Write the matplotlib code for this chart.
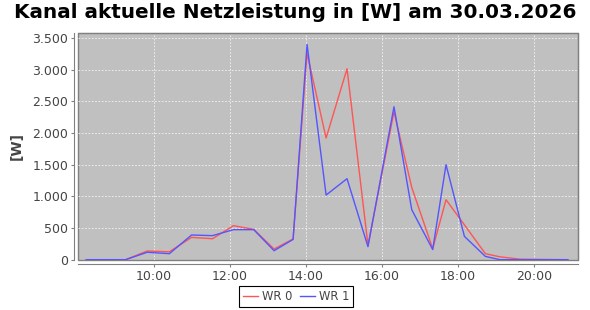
import matplotlib

matplotlib.use("Agg")
import matplotlib.pyplot as plt
import matplotlib.dates as mdates
import matplotlib.ticker as mticker
import pandas as pd

# Messzeitpunkte und Leistung je Wechselrichter in W
times = ["08:14", "09:16", "09:50", "10:25", "11:00", "11:33", "12:06", "12:38",
         "13:10", "13:40", "14:02", "14:32", "15:05", "15:38", "16:19", "16:47",
         "17:20", "17:41", "18:10", "18:43", "19:06", "19:38", "20:53"]
wr0 = [0, 0, 137, 125, 352, 331, 537, 479, 168, 327, 3260, 1921, 3015, 230,
       2336, 1140, 174, 947, 550, 95, 45, 8, 0]
wr1 = [0, 0, 117, 95, 390, 380, 474, 474, 142, 320, 3400, 1021, 1279, 205,
       2415, 789, 160, 1500, 368, 52, 0, 0, 0]

day = "2026-03-30"
x = pd.to_datetime([f"{day} {t}" for t in times])

TEXT = "#444444"
FRAME = "#808080"

fig = plt.figure(figsize=(5.9, 3.1), dpi=100)
ax = fig.add_axes([78 / 590, 50 / 310, 500 / 590, 227 / 310])
ax.set_facecolor("#c0c0c0")

ax.plot(x, wr0, color="#ff5555", lw=1.0, label="WR 0")
ax.plot(x, wr1, color="#5555ff", lw=1.0, label="WR 1")

ax.set_xlim(pd.Timestamp(f"{day} 08:01"), pd.Timestamp(f"{day} 21:09"))
ax.set_ylim(-5, 3580)
ax.yaxis.set_major_locator(mticker.MultipleLocator(500))
ax.yaxis.set_major_formatter(mticker.FuncFormatter(lambda v, p: f"{int(v):,}".replace(",", ".")))
ax.xaxis.set_major_locator(mdates.HourLocator(byhour=range(0, 24, 2)))
ax.xaxis.set_major_formatter(mdates.DateFormatter("%H:%M"))

ax.grid(True, color="#f4f4f4", ls=(0, (2, 2)), lw=0.6)
ax.set_axisbelow(True)

for side in ("top", "right"):
    ax.spines[side].set_color(FRAME)
for side in ("left", "bottom"):
    ax.spines[side].set_color(FRAME)
    ax.spines[side].set_position(("outward", 3))
ax.patch.set_edgecolor(FRAME)
ax.patch.set_linewidth(1.0)

ax.tick_params(colors=FRAME, labelcolor=TEXT, labelsize=9, length=2, width=0.8, pad=2)
ax.set_ylabel("[W]", color=TEXT, fontsize=10, fontweight="bold", labelpad=6)

fig.suptitle("Kanal aktuelle Netzleistung in [W] am 30.03.2026",
             fontsize=14.4, fontweight="bold", x=0.5, y=0.99, va="top")

leg = ax.legend(loc="upper center", bbox_to_anchor=(0.436, -0.115), ncol=2,
                fontsize=8.3, frameon=True, fancybox=False, framealpha=1,
                edgecolor="black", handlelength=1.3, handletextpad=0.35,
                columnspacing=0.7, borderpad=0.35, borderaxespad=0)
leg.get_frame().set_linewidth(0.8)
for t in leg.get_texts():
    t.set_color(TEXT)

fig.savefig("out.png", dpi=100, facecolor="white")
